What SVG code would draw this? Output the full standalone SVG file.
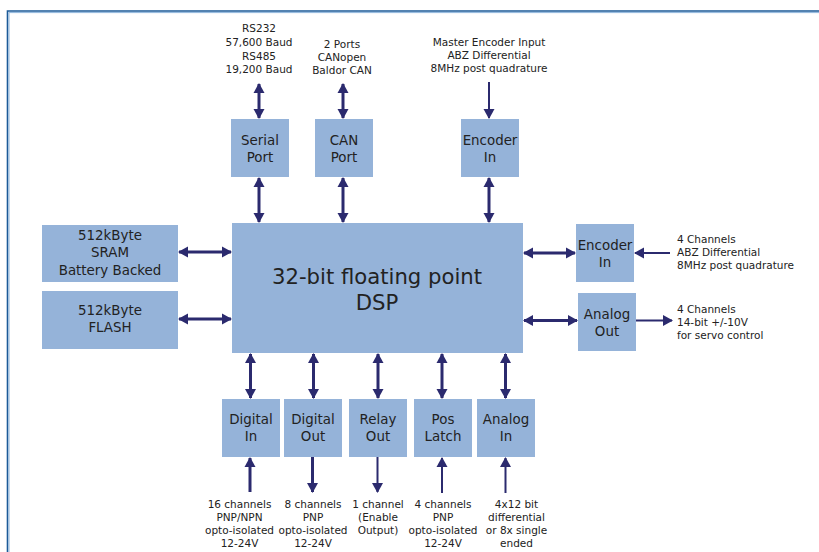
<svg xmlns="http://www.w3.org/2000/svg" width="819" height="552" viewBox="0 0 819 552">
<defs>
<style>
.box{fill:#95b3d9;}
.t{font-family:"DejaVu Sans","Noto Sans",sans-serif;fill:#222;text-anchor:middle;}
.bt{font-size:13.4px;}
.lb{font-size:10.5px;}
.c{stroke:#2b2a6e;stroke-width:3;fill:none;}
.thin{stroke-width:2;}
</style>
<marker id="ah" markerUnits="userSpaceOnUse" markerWidth="12" markerHeight="12" viewBox="0 0 10 12" refX="9" refY="6" orient="auto-start-reverse">
<path d="M0,0.5 L10,6 L0,11.5 z" fill="#2b2a6e"/>
</marker>
</defs>
<rect width="819" height="552" fill="#fff"/>
<g id="frame">
<path d="M7.5 552 V11 H819" stroke="#1b5a98" stroke-width="1.6" fill="none"/>
<path d="M9 552 V12.6 H819" stroke="#8fb6dc" stroke-width="1" fill="none"/>
</g>
<g id="connectors">
<line class="c" x1="259" y1="84" x2="259" y2="118" marker-start="url(#ah)" marker-end="url(#ah)"/>
<line class="c" x1="343" y1="84" x2="343" y2="118" marker-start="url(#ah)" marker-end="url(#ah)"/>
<line class="c thin" x1="489" y1="82" x2="489" y2="118" marker-end="url(#ah)"/>
<line class="c" x1="259" y1="178" x2="259" y2="222" marker-start="url(#ah)" marker-end="url(#ah)"/>
<line class="c" x1="343" y1="178" x2="343" y2="222" marker-start="url(#ah)" marker-end="url(#ah)"/>
<line class="c" x1="489" y1="178" x2="489" y2="222" marker-start="url(#ah)" marker-end="url(#ah)"/>
<line class="c" x1="179" y1="252" x2="231" y2="252" marker-start="url(#ah)" marker-end="url(#ah)"/>
<line class="c" x1="179" y1="319" x2="231" y2="319" marker-start="url(#ah)" marker-end="url(#ah)"/>
<line class="c" x1="524" y1="253" x2="575" y2="253" marker-start="url(#ah)" marker-end="url(#ah)"/>
<line class="c" x1="524" y1="320.5" x2="577" y2="320.5" marker-start="url(#ah)" marker-end="url(#ah)"/>
<line class="c thin" x1="670" y1="253" x2="635" y2="253" marker-end="url(#ah)"/>
<line class="c thin" x1="636" y1="320.5" x2="672" y2="320.5" marker-end="url(#ah)"/>
<line class="c" x1="250.5" y1="354" x2="250.5" y2="398" marker-start="url(#ah)" marker-end="url(#ah)"/>
<line class="c" x1="313.5" y1="354" x2="313.5" y2="398" marker-start="url(#ah)" marker-end="url(#ah)"/>
<line class="c" x1="378" y1="354" x2="378" y2="398" marker-start="url(#ah)" marker-end="url(#ah)"/>
<line class="c" x1="442" y1="354" x2="442" y2="398" marker-start="url(#ah)" marker-end="url(#ah)"/>
<line class="c" x1="505.5" y1="354" x2="505.5" y2="398" marker-start="url(#ah)" marker-end="url(#ah)"/>
<line class="c" x1="250" y1="492" x2="250" y2="458" marker-end="url(#ah)"/>
<line class="c" x1="312.5" y1="457" x2="312.5" y2="492" marker-end="url(#ah)"/>
<line class="c thin" x1="377.5" y1="457" x2="377.5" y2="492" marker-end="url(#ah)"/>
<line class="c thin" x1="442" y1="493" x2="442" y2="458" marker-end="url(#ah)"/>
<line class="c thin" x1="505.5" y1="493" x2="505.5" y2="458" marker-end="url(#ah)"/>
</g>
<g id="dsp"><rect class="box" x="232" y="223" width="291" height="130"/>
<text class="t" font-size="21.2" x="377" y="284">32-bit floating point</text>
<text class="t" font-size="21.2" x="377" y="310">DSP</text></g>
<g id="sram"><rect class="box" x="42" y="225" width="136" height="57"/>
<text class="t bt" x="110" y="240">512kByte</text>
<text class="t bt" x="110" y="257">SRAM</text>
<text class="t bt" x="110" y="274.5">Battery Backed</text></g>
<g id="flash"><rect class="box" x="42" y="291" width="136" height="58"/>
<text class="t bt" x="110" y="315">512kByte</text>
<text class="t bt" x="110" y="332">FLASH</text></g>
<g id="serial"><rect class="box" x="231" y="119" width="58" height="58"/>
<text class="t bt" x="260" y="145">Serial</text>
<text class="t bt" x="260" y="162">Port</text></g>
<g id="can"><rect class="box" x="315" y="119" width="58" height="58"/>
<text class="t bt" x="344" y="145">CAN</text>
<text class="t bt" x="344" y="162">Port</text></g>
<g id="enc-top"><rect class="box" x="461" y="119" width="58" height="58"/>
<text class="t bt" x="490" y="145">Encoder</text>
<text class="t bt" x="490" y="162">In</text></g>
<g id="enc-right"><rect class="box" x="576" y="224" width="58" height="58"/>
<text class="t bt" x="605" y="249.5">Encoder</text>
<text class="t bt" x="605" y="266.5">In</text></g>
<g id="analog-out"><rect class="box" x="578" y="293" width="58" height="58"/>
<text class="t bt" x="607" y="318.5">Analog</text>
<text class="t bt" x="607" y="335.5">Out</text></g>
<g id="digital-in"><rect class="box" x="222" y="399" width="58" height="58"/>
<text class="t bt" x="251" y="424">Digital</text>
<text class="t bt" x="251" y="441">In</text></g>
<g id="digital-out"><rect class="box" x="284" y="399" width="58" height="58"/>
<text class="t bt" x="313" y="424">Digital</text>
<text class="t bt" x="313" y="441">Out</text></g>
<g id="relay-out"><rect class="box" x="349" y="399" width="58" height="58"/>
<text class="t bt" x="378" y="424">Relay</text>
<text class="t bt" x="378" y="441">Out</text></g>
<g id="pos-latch"><rect class="box" x="414" y="399" width="58" height="58"/>
<text class="t bt" x="443" y="424">Pos</text>
<text class="t bt" x="443" y="441">Latch</text></g>
<g id="analog-in"><rect class="box" x="477" y="399" width="58" height="58"/>
<text class="t bt" x="506" y="424">Analog</text>
<text class="t bt" x="506" y="441">In</text></g>
<g id="labels">
<text class="t lb" x="259" y="32">RS232</text>
<text class="t lb" x="259" y="46">57,600 Baud</text>
<text class="t lb" x="259" y="59.5">RS485</text>
<text class="t lb" x="259" y="73">19,200 Baud</text>
<text class="t lb" x="342" y="48">2 Ports</text>
<text class="t lb" x="342" y="61">CANopen</text>
<text class="t lb" x="342" y="74">Baldor CAN</text>
<text class="t lb" x="489" y="46">Master Encoder Input</text>
<text class="t lb" x="489" y="59">ABZ Differential</text>
<text class="t lb" x="489" y="72">8MHz post quadrature</text>
<text class="t lb" x="677" y="243" style="text-anchor:start">4 Channels</text>
<text class="t lb" x="677" y="256" style="text-anchor:start">ABZ Differential</text>
<text class="t lb" x="677" y="269" style="text-anchor:start">8MHz post quadrature</text>
<text class="t lb" x="677" y="313" style="text-anchor:start">4 Channels</text>
<text class="t lb" x="677" y="326" style="text-anchor:start">14-bit +/-10V</text>
<text class="t lb" x="677" y="339" style="text-anchor:start">for servo control</text>
<text class="t lb" x="239.5" y="508">16 channels</text>
<text class="t lb" x="239.5" y="521">PNP/NPN</text>
<text class="t lb" x="239.5" y="533.5">opto-isolated</text>
<text class="t lb" x="239.5" y="546.5">12-24V</text>
<text class="t lb" x="313" y="508">8 channels</text>
<text class="t lb" x="313" y="521">PNP</text>
<text class="t lb" x="313" y="533.5">opto-isolated</text>
<text class="t lb" x="313" y="546.5">12-24V</text>
<text class="t lb" x="378" y="508">1 channel</text>
<text class="t lb" x="378" y="521">(Enable</text>
<text class="t lb" x="378" y="533.5">Output)</text>
<text class="t lb" x="443" y="508">4 channels</text>
<text class="t lb" x="443" y="521">PNP</text>
<text class="t lb" x="443" y="533.5">opto-isolated</text>
<text class="t lb" x="443" y="546.5">12-24V</text>
<text class="t lb" x="516.5" y="508">4x12 bit</text>
<text class="t lb" x="516.5" y="521">differential</text>
<text class="t lb" x="516.5" y="533.5">or 8x single</text>
<text class="t lb" x="516.5" y="546.5">ended</text>
</g>
</svg>
